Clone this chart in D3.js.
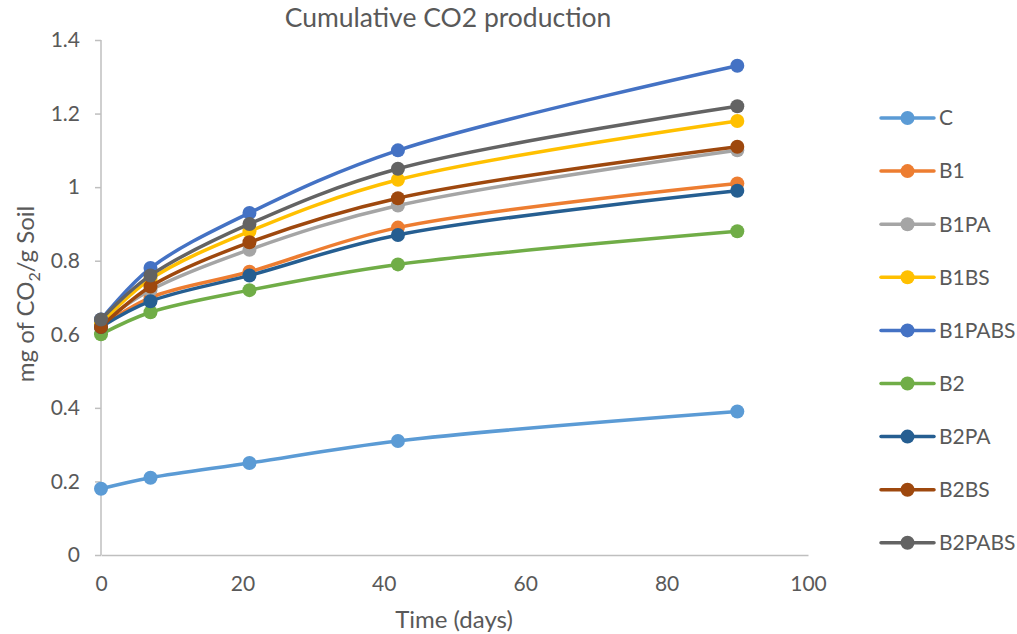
<!DOCTYPE html>
<html>
<head>
<meta charset="utf-8">
<script src="https://cdn.jsdelivr.net/npm/d3@7"></script>
<style>
  html, body { margin: 0; padding: 0; background: #ffffff; }
  svg { display: block; }
  text { font-family: Lato, "Open Sans", sans-serif; fill: #595959; }
</style>
</head>
<body>
<svg id="chart" width="1017" height="634"></svg>
<script>
// Sampling days
const days = [0, 7, 21, 42, 90];

// Treatments, in drawing / legend order
const seriesNames = ["C", "B1", "B1PA", "B1BS", "B1PABS", "B2", "B2PA", "B2BS", "B2PABS"];

// Cumulative CO2 (mg CO2 / g soil) per treatment
const valC      = [0.18, 0.21, 0.25, 0.31, 0.39];
const valB1     = [0.62, 0.70, 0.77, 0.89, 1.01];
const valB1PA   = [0.63, 0.72, 0.83, 0.95, 1.10];
const valB1BS   = [0.63, 0.75, 0.88, 1.02, 1.18];
const valB1PABS = [0.64, 0.78, 0.93, 1.10, 1.33];
const valB2     = [0.60, 0.66, 0.72, 0.79, 0.88];
const valB2PA   = [0.62, 0.69, 0.76, 0.87, 0.99];
const valB2BS   = [0.62, 0.73, 0.85, 0.97, 1.11];
const valB2PABS = [0.64, 0.76, 0.90, 1.05, 1.22];

const seriesColors = ["#5B9BD5", "#ED7D31", "#A5A5A5", "#FFC000", "#4472C4",
                      "#70AD47", "#255E91", "#9E480E", "#636363"];

const xTicks = [0, 20, 40, 60, 80, 100];
const yTicks = [0, 0.2, 0.4, 0.6, 0.8, 1, 1.2, 1.4];

const allValues = [valC, valB1, valB1PA, valB1BS, valB1PABS, valB2, valB2PA, valB2BS, valB2PABS];
const series = seriesNames.map((name, i) => ({
  name,
  color: seriesColors[i],
  points: days.map((d, j) => ({ x: d, y: allValues[i][j] }))
}));

const svg = d3.select("#chart");

const x = d3.scaleLinear().domain([0, 100]).range([101, 808]);
const y = d3.scaleLinear().domain([0, 1.4]).range([555, 40]);

// Title
svg.append("text")
  .attr("x", 448).attr("y", 27)
  .attr("text-anchor", "middle")
  .style("font-size", "26.5px")
  .text("Cumulative CO2 production");

// Y axis
const yAxis = svg.append("g")
  .attr("transform", `translate(${x(0)},0)`)
  .call(d3.axisLeft(y).tickValues(yTicks).tickSize(6).tickPadding(15)
        .tickFormat(d => d3.format("")(+d.toFixed(1))));
yAxis.select(".domain").attr("stroke", "#BFBFBF").attr("stroke-width", 1.5)
  .attr("d", `M0,${y(0)}V${y(1.4)}`);
yAxis.selectAll(".tick line").attr("stroke", "#BFBFBF").attr("stroke-width", 1.5);
yAxis.selectAll(".tick text").style("font-size", "21px").style("fill", "#595959")
  .attr("font-family", null);

// X axis
const xAxis = svg.append("g")
  .attr("transform", `translate(0,${y(0)})`)
  .call(d3.axisBottom(x).tickValues(xTicks).tickSize(0).tickPadding(21));
xAxis.select(".domain").attr("stroke", "#BFBFBF").attr("stroke-width", 1.5);
xAxis.selectAll(".tick text").style("font-size", "21px").style("fill", "#595959")
  .attr("font-family", null);

// Axis titles
svg.append("text")
  .attr("x", 454).attr("y", 628)
  .attr("text-anchor", "middle")
  .style("font-size", "24px")
  .text("Time (days)");

const yTitle = svg.append("text")
  .attr("transform", `translate(34,294) rotate(-90)`)
  .attr("text-anchor", "middle")
  .style("font-size", "24px");
yTitle.append("tspan").text("mg of CO");
yTitle.append("tspan").attr("dy", 6).style("font-size", "16px").text("2");
yTitle.append("tspan").attr("dy", -6).text("/g Soil");

// Smoothed lines and markers
const line = d3.line()
  .x(d => x(d.x)).y(d => y(d.y))
  .curve(d3.curveCatmullRom.alpha(0.5));

const g = svg.append("g");
series.forEach(s => {
  const sg = g.append("g");
  sg.append("path")
    .attr("d", line(s.points))
    .attr("fill", "none")
    .attr("stroke", s.color)
    .attr("stroke-width", 3.5)
    .attr("stroke-linecap", "round");
  sg.selectAll("circle").data(s.points).join("circle")
    .attr("cx", d => x(d.x)).attr("cy", d => y(d.y))
    .attr("r", 7)
    .attr("fill", s.color);
});

// Legend
const legend = svg.append("g");
series.forEach((s, i) => {
  const ly = 118 + i * 53.1;
  const lg = legend.append("g").attr("transform", `translate(0,${ly})`);
  lg.append("line").attr("x1", 881).attr("x2", 934).attr("y1", 0).attr("y2", 0)
    .attr("stroke", s.color).attr("stroke-width", 3.5).attr("stroke-linecap", "round");
  lg.append("circle").attr("cx", 907.5).attr("cy", 0).attr("r", 7).attr("fill", s.color);
  lg.append("text").attr("x", 939).attr("y", 0).attr("dy", "0.35em")
    .style("font-size", "21px").text(s.name);
});
</script>
</body>
</html>
